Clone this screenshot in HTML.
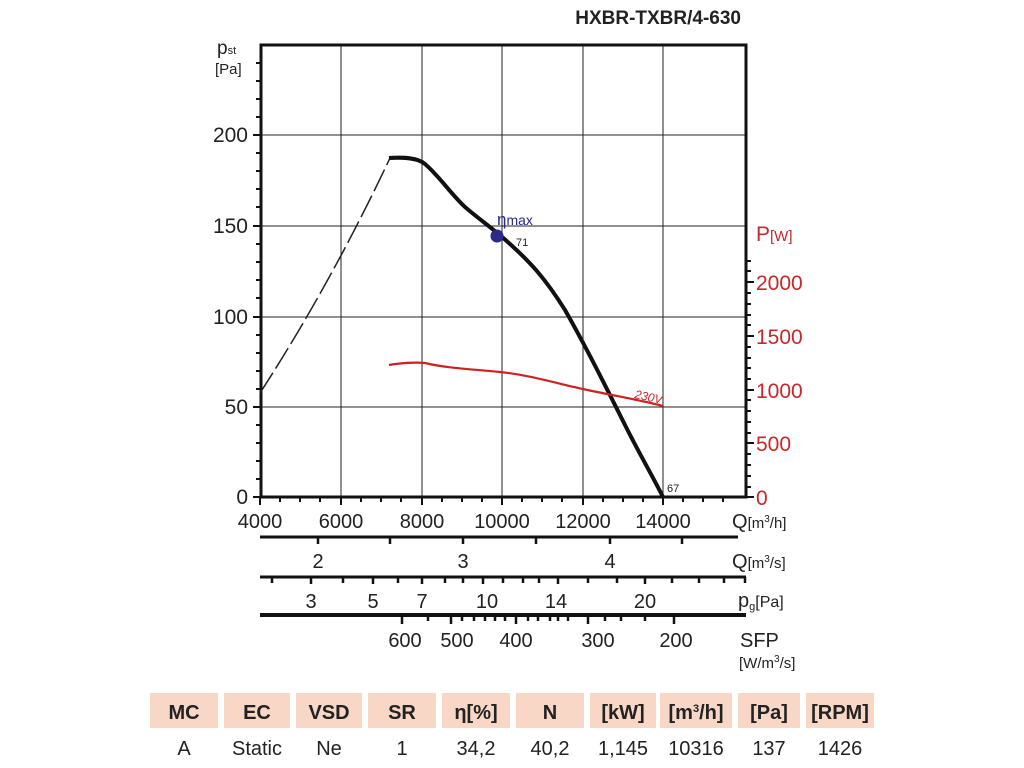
<!DOCTYPE html>
<html><head><meta charset="utf-8"><style>
html,body{margin:0;padding:0;background:#fff;}
svg{display:block;font-family:"Liberation Sans",Arial,sans-serif;}
</style></head><body>
<svg width="1024" height="768" viewBox="0 0 1024 768" xmlns="http://www.w3.org/2000/svg">
<text x="741" y="24" font-size="19" font-weight="bold" text-anchor="end" fill="#222">HXBR-TXBR/4-630</text>
<g stroke="#222" stroke-width="1">
<line x1="341" y1="45" x2="341" y2="497"/><line x1="422" y1="45" x2="422" y2="497"/>
<line x1="502" y1="45" x2="502" y2="497"/><line x1="583" y1="45" x2="583" y2="497"/>
<line x1="663" y1="45" x2="663" y2="497"/>
<line x1="260" y1="135" x2="746" y2="135"/><line x1="260" y1="226" x2="746" y2="226"/>
<line x1="260" y1="317" x2="746" y2="317"/><line x1="260" y1="407" x2="746" y2="407"/>
</g>
<rect x="261" y="45" width="485" height="452" fill="none" stroke="#111" stroke-width="3"/>
<g stroke="#111" stroke-width="2">
<path d="M253 135h8M253 226h8M253 317h8M253 407h8M253 497h8"/>
<path d="M256 63h5M256 81h5M256 99h5M256 117h5M256 153h5M256 171h5M256 189h5M256 207h5M256 244h5M256 262h5M256 280h5M256 298h5M256 335h5M256 353h5M256 371h5M256 389h5M256 425h5M256 443h5M256 461h5M256 479h5"/>
<path d="M746 282h8M746 336h8M746 390h8M746 443h8M746 497h8"/>
<path d="M746 293h5M746 304h5M746 315h5M746 325h5M746 347h5M746 358h5M746 368h5M746 379h5M746 400h5M746 411h5M746 422h5M746 433h5M746 454h5M746 465h5M746 476h5M746 487h5M746 271h5M746 261h5"/>
<path d="M260 497v8M341 497v8M422 497v8M502 497v8M583 497v8M663 497v8"/>
<path d="M280 497v5M300 497v5M320 497v5M361 497v5M381 497v5M401 497v5M442 497v5M462 497v5M482 497v5M522 497v5M542 497v5M562 497v5M603 497v5M623 497v5M643 497v5M683 497v5M703 497v5M723 497v5"/>
</g>
<g font-size="21" fill="#222" text-anchor="end">
<text x="248" y="142">200</text><text x="248" y="233">150</text><text x="248" y="324">100</text><text x="248" y="414">50</text><text x="248" y="504">0</text>
</g>
<text x="217" y="54" font-size="19" fill="#222">p<tspan font-size="11">st</tspan></text>
<text x="215" y="74" font-size="15" fill="#222">[Pa]</text>
<g font-size="21" fill="#c8282a">
<text x="756" y="241">P<tspan font-size="15">[W]</tspan></text>
<text x="756" y="290">2000</text><text x="756" y="344">1500</text><text x="756" y="398">1000</text><text x="756" y="451">500</text><text x="756" y="505">0</text>
</g>
<g font-size="20" fill="#222" text-anchor="middle">
<text x="260" y="528">4000</text><text x="341" y="528">6000</text><text x="422" y="528">8000</text><text x="502" y="528">10000</text><text x="583" y="528">12000</text><text x="663" y="528">14000</text>
</g>
<text x="732" y="528" font-size="20" fill="#222">Q<tspan font-size="15">[m<tspan font-size="10" dy="-6">3</tspan><tspan dy="6">/h]</tspan></tspan></text>
<path d="M260 393 Q330 285 390 158" stroke="#222" stroke-width="1.5" fill="none" stroke-dasharray="24,5"/>
<path d="M389 158 C405 157 418 158 425 164 C440 177 450 193 465 207 C480 220 495 230 510 244 C530 262 545 278 565 310 C585 345 605 385 625 425 C640 455 652 475 663 497" stroke="#111" stroke-width="4" fill="none"/>
<path d="M389 365 C400 363 415 362 425 363 C445 368 470 369 500 372 C530 375 555 383 583 389 C610 395 640 400 663 406" stroke="#d02020" stroke-width="2.2" fill="none"/>
<circle cx="497" cy="236" r="6.5" fill="#2a2a8a"/>
<text x="497" y="225" font-size="17" fill="#2a2a8a">η<tspan font-size="14">max</tspan></text>
<text x="516" y="246" font-size="11" fill="#222">71</text>
<text x="667" y="492" font-size="11" fill="#222">67</text>
<text x="634" y="398" font-size="12" fill="#c8282a" font-style="italic" transform="rotate(12 634 398)">230V</text>
<g stroke="#111">
<line x1="260" y1="537" x2="738" y2="537" stroke-width="3"/>
<path d="M318 537v7M390 537v7M463 537v7M536 537v7M610 537v7M682 537v7" stroke-width="2.5"/>
<line x1="260" y1="577" x2="746" y2="577" stroke-width="3"/>
<path d="M272 577v6M311 577v7M343 577v6M373 577v7M398 577v6M422 577v7M445 577v6M463 577v6M483 577v7M503 577v6M523 577v6M539 577v6M558 577v7M588 577v6M617 577v6M645 577v7M672 577v6M699 577v6M724 577v6M745 577v6" stroke-width="2.5"/>
<line x1="260" y1="615" x2="746" y2="615" stroke-width="4"/>
<path d="M402 615v9M451 615v9M516 615v9M588 615v9M674 615v9" stroke-width="2.5"/>
<path d="M428 615v6M462 615v6M474 615v6M485 615v6M495 615v6M505 615v6M528 615v6M538 615v6M550 615v6M558 615v6M568 615v6M605 615v6M621 615v6M645 615v6" stroke-width="2.5"/>
</g>
<g font-size="20" fill="#222" text-anchor="middle">
<text x="318" y="568">2</text><text x="463" y="568">3</text><text x="610" y="568">4</text>
<text x="311" y="608">3</text><text x="373" y="608">5</text><text x="422" y="608">7</text><text x="487" y="608">10</text><text x="556" y="608">14</text><text x="645" y="608">20</text>
<text x="405" y="647">600</text><text x="457" y="647">500</text><text x="516" y="647">400</text><text x="598" y="647">300</text><text x="676" y="647">200</text>
</g>
<text x="732" y="568" font-size="20" fill="#222">Q<tspan font-size="15">[m<tspan font-size="10" dy="-6">3</tspan><tspan dy="6">/s]</tspan></tspan></text>
<text x="738" y="607" font-size="20" fill="#222">p<tspan font-size="11" dy="3">g</tspan><tspan font-size="16" dy="-3">[Pa]</tspan></text>
<text x="740" y="647" font-size="20" fill="#222">SFP</text>
<text x="739" y="668" font-size="15" fill="#222">[W/m<tspan font-size="10" dy="-6">3</tspan><tspan dy="6">/s]</tspan></text>
<g fill="#f8d7c6">
<rect x="150" y="693" width="68" height="35"/><rect x="224" y="693" width="66" height="35"/><rect x="296" y="693" width="66" height="35"/><rect x="368" y="693" width="68" height="35"/><rect x="442" y="693" width="68" height="35"/><rect x="516" y="693" width="68" height="35"/><rect x="590" y="693" width="66" height="35"/><rect x="660" y="693" width="72" height="35"/><rect x="738" y="693" width="62" height="35"/><rect x="806" y="693" width="68" height="35"/>
</g>
<g font-size="20" font-weight="bold" fill="#222" text-anchor="middle">
<text x="184" y="719">MC</text><text x="257" y="719">EC</text><text x="329" y="719">VSD</text><text x="402" y="719">SR</text><text x="476" y="719">η[%]</text><text x="550" y="719">N</text><text x="623" y="719">[kW]</text><text x="696" y="719">[m<tspan font-size="11" dy="-7">3</tspan><tspan dy="7">/h]</tspan></text><text x="769" y="719">[Pa]</text><text x="840" y="719">[RPM]</text>
</g>
<g font-size="20" fill="#222" text-anchor="middle">
<text x="184" y="755">A</text><text x="257" y="755">Static</text><text x="329" y="755">Ne</text><text x="402" y="755">1</text><text x="476" y="755">34,2</text><text x="550" y="755">40,2</text><text x="623" y="755">1,145</text><text x="696" y="755">10316</text><text x="769" y="755">137</text><text x="840" y="755">1426</text>
</g>
</svg>
</body></html>
